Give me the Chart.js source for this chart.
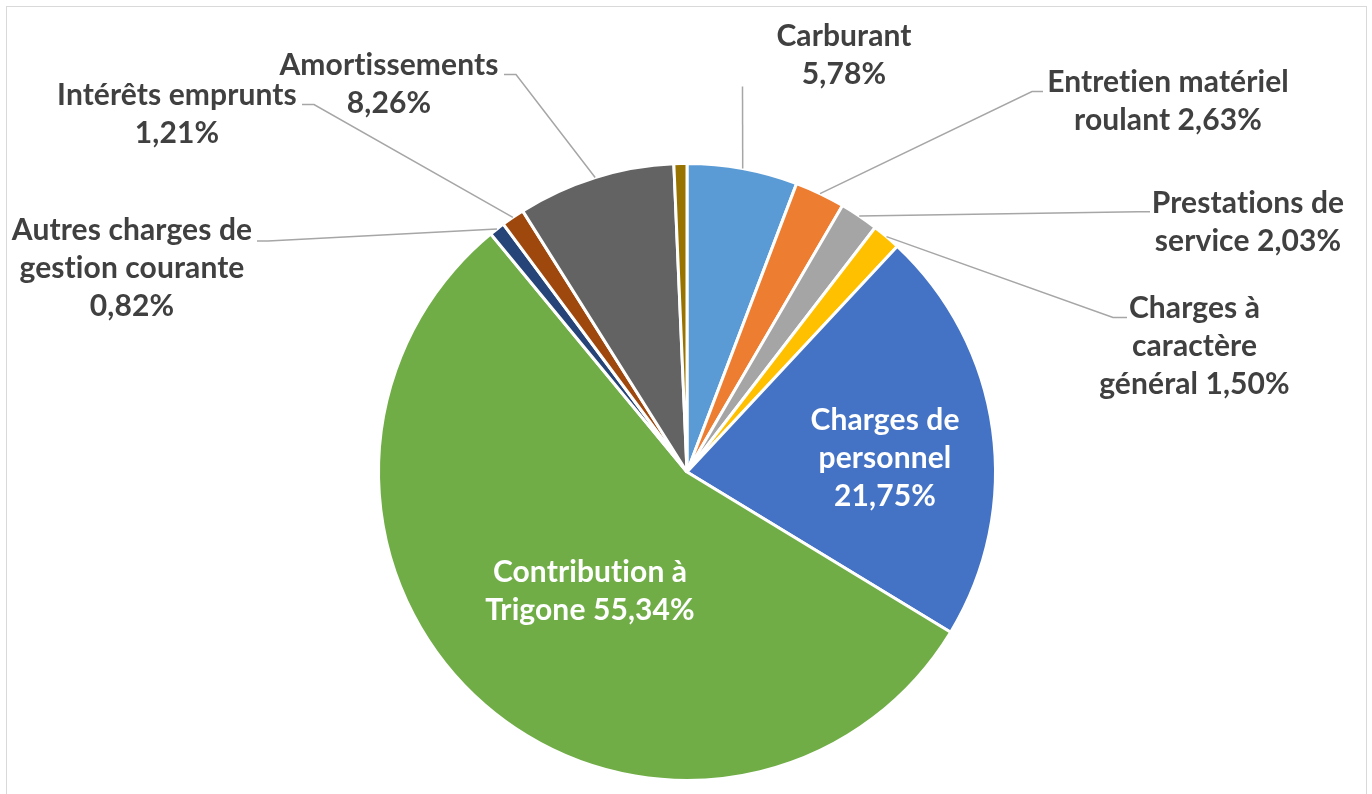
<!DOCTYPE html>
<html><head><meta charset="utf-8">
<script src="https://cdn.jsdelivr.net/npm/chart.js@4.4.1/dist/chart.umd.min.js"></script>
<style>
html,body{margin:0;padding:0;background:#fff;overflow:hidden}
#wrap{position:relative;width:1372px;height:794px}
#frame{position:absolute;left:6px;top:6px;width:1359px;height:800px;border:1px solid #D9D9D9;pointer-events:none}
#c{font-variant-ligatures:none}
</style></head><body>
<div id="wrap"><canvas id="c" width="1372" height="794"></canvas><div id="frame"></div></div>
<script>
// ---- data ----
const categories = ["Carburant","Entretien matériel roulant","Prestations de service","Charges à caractère général","Charges de personnel","Contribution à Trigone","Autres charges de gestion courante","Intérêts emprunts","Amortissements",""];
const values = [5.78, 2.63, 2.03, 1.50, 21.75, 55.34, 0.82, 1.21, 8.26, 0.68];
const colors = ["#5B9BD5","#ED7D31","#A5A5A5","#FFC000","#4472C4","#70AD47","#264478","#9E480E","#636363","#997300"];

// ---- label layout (offsets from the pie centre, px) ----
// words: number of words on each line; tx: text centre x; ty: first baseline y;
// elbow/tail: leader line bend and end points; inside: white text without leader
const labelLayout = [
  {words:[1,1],   tx:157,  ty:-426.5, elbow:[55.5,-385.5]},
  {words:[2,2],   tx:481,  ty:-380.5, elbow:[345,-380.5], tail:[356,-380.5]},
  {words:[2,2],   tx:561,  ty:-259.5, elbow:[451,-260.2], tail:[463,-260.2]},
  {words:[2,1,2], tx:507.5,ty:-154.5, elbow:[426,-154.5], tail:[440,-154.5]},
  {words:[2,1,1], tx:198,  ty:-42.5,  inside:true},
  {words:[2,2],   tx:-97,  ty:109.5,  inside:true},
  {words:[3,2,1], tx:-555, ty:-232.5, elbow:[-419,-231], tail:[-430,-231]},
  {words:[2,1],   tx:-510, ty:-367.5, elbow:[-373,-367.5], tail:[-385,-367.5]},
  {words:[1,1],   tx:-298, ty:-397.5, elbow:[-171,-397.5], tail:[-183,-397.5]},
  null
];
const FONT = "bold 30px Lato, 'Open Sans', sans-serif";
const LINE_H = 38;

function fmtPct(v, total){ return (v/total*100).toFixed(2).replace('.', ',') + '%'; }

const labelPlugin = {
  id: 'excelLabels',
  afterDatasetsDraw(chart){
    const ctx = chart.ctx;
    const meta = chart.getDatasetMeta(0);
    const data = chart.data.datasets[0].data;
    const total = data.reduce((a,b)=>a+b,0);
    ctx.save();
    meta.data.forEach((arc, i) => {
      const L = labelLayout[i];
      if (!L || !chart.data.labels[i]) return;
      const p = arc.getProps(['x','y','startAngle','endAngle','outerRadius'], true);
      const cx = p.x, cy = p.y;
      if (!L.inside) {
        const mid = (p.startAngle + p.endAngle)/2;
        const sx = cx + Math.cos(mid)*p.outerRadius;
        const sy = cy + Math.sin(mid)*p.outerRadius;
        ctx.beginPath();
        ctx.strokeStyle = '#A6A6A6';
        ctx.lineWidth = 1.5;
        ctx.moveTo(sx, sy);
        ctx.lineTo(cx + L.elbow[0], cy + L.elbow[1]);
        if (L.tail) ctx.lineTo(cx + L.tail[0], cy + L.tail[1]);
        ctx.stroke();
      }
      const words = (chart.data.labels[i] + ' ' + fmtPct(data[i], total)).split(' ');
      const lines = []; let k = 0;
      L.words.forEach(n => { lines.push(words.slice(k, k+n).join(' ')); k += n; });
      ctx.font = FONT;
      if ('letterSpacing' in ctx) ctx.letterSpacing = '0.1px';
      ctx.fillStyle = L.inside ? '#FFFFFF' : '#404040';
      ctx.textAlign = 'center';
      ctx.textBaseline = 'alphabetic';
      lines.forEach((t, j) => ctx.fillText(t, cx + L.tx, cy + L.ty + j*LINE_H));
    });
    ctx.restore();
  }
};

function build(){
  new Chart(document.getElementById('c'), {
    type: 'pie',
    data: {
      labels: categories,
      datasets: [{ data: values, backgroundColor: colors, borderColor: '#FFFFFF', borderWidth: 3 }]
    },
    options: {
      responsive: false,
      animation: false,
      layout: { padding: { top: 162, bottom: 12, left: 300, right: 298 } },
      plugins: { legend: { display: false }, tooltip: { enabled: false } }
    },
    plugins: [labelPlugin]
  });
}
if (document.fonts && document.fonts.load) {
  document.fonts.load(FONT).then(build, build);
} else build();
</script>
</body></html>
